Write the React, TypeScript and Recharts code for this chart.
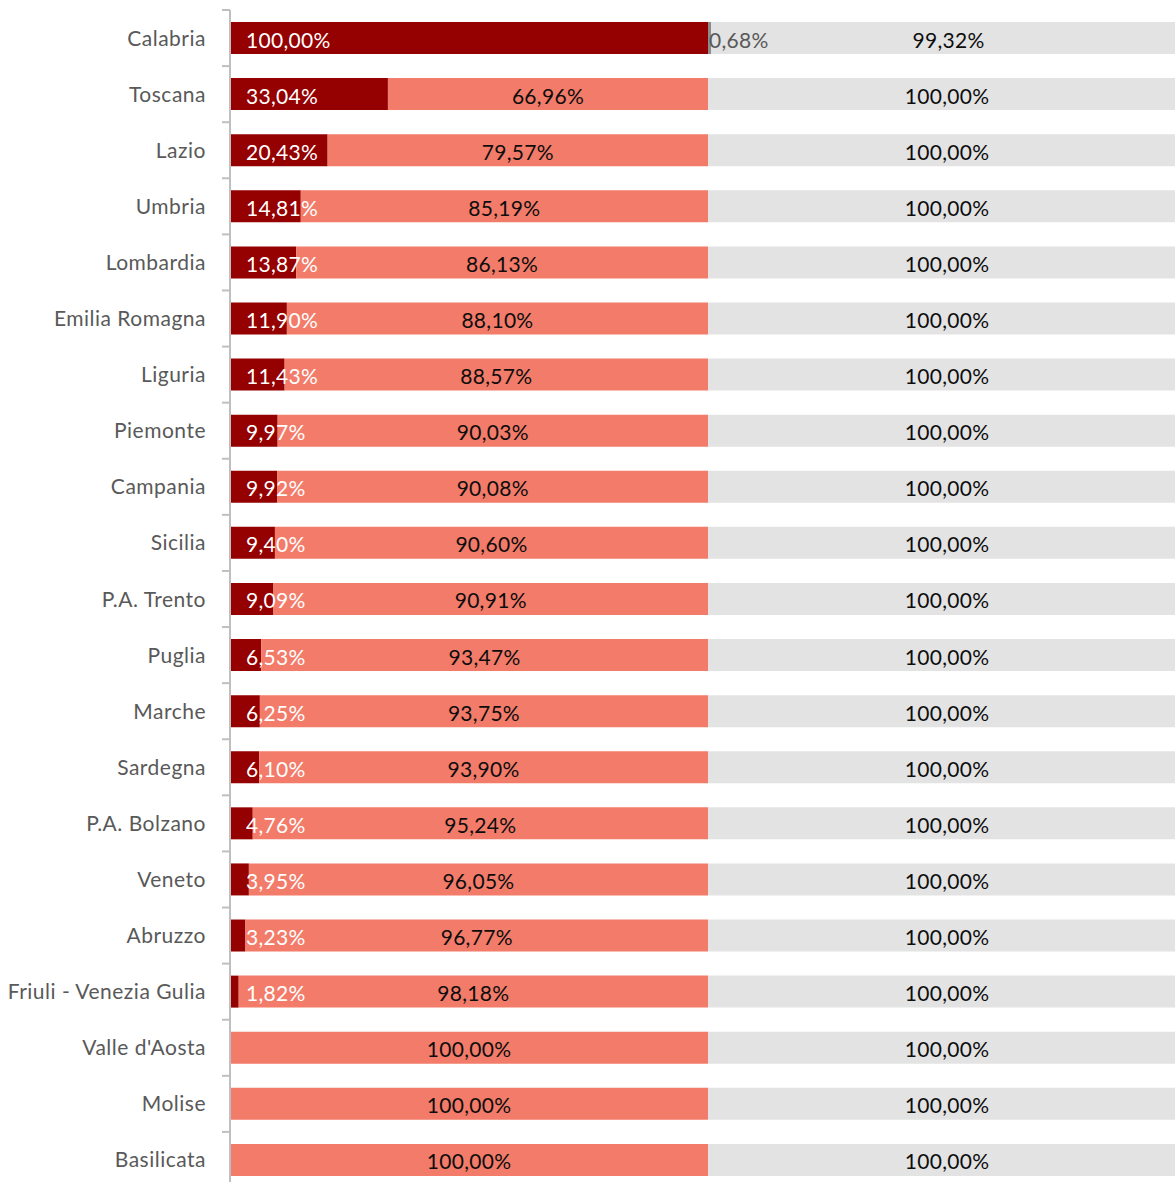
import React from 'react';
import { BarChart, Bar, XAxis, YAxis, LabelList } from 'recharts';

const regions = [
  'Calabria', 'Toscana', 'Lazio', 'Umbria', 'Lombardia', 'Emilia Romagna', 'Liguria',
  'Piemonte', 'Campania', 'Sicilia', 'P.A. Trento', 'Puglia', 'Marche', 'Sardegna',
  'P.A. Bolzano', 'Veneto', 'Abruzzo', 'Friuli - Venezia Gulia', "Valle d'Aosta", 'Molise', 'Basilicata',
];
const darkShare = [100, 33.04, 20.43, 14.81, 13.87, 11.9, 11.43, 9.97, 9.92, 9.4, 9.09, 6.53, 6.25, 6.1, 4.76, 3.95, 3.23, 1.82, 0, 0, 0];
const salmonShare = [0, 66.96, 79.57, 85.19, 86.13, 88.1, 88.57, 90.03, 90.08, 90.6, 90.91, 93.47, 93.75, 93.9, 95.24, 96.05, 96.77, 98.18, 100, 100, 100];
const greyDarkShare = [0.68, 0, 0, 0, 0, 0, 0, 0, 0, 0, 0, 0, 0, 0, 0, 0, 0, 0, 0, 0, 0];
const greyShare = [99.32, 100, 100, 100, 100, 100, 100, 100, 100, 100, 100, 100, 100, 100, 100, 100, 100, 100, 100, 100, 100];

const data = regions.map((name, i) => ({
  name,
  a: darkShare[i],
  b: salmonShare[i],
  c: greyDarkShare[i],
  d: greyShare[i],
}));

const FONT = 'Lato, "Open Sans", sans-serif';
const FS = 21;
const fmt = (v: number) => v.toFixed(2).replace('.', ',') + '%';

const CHART_W = 1186;
const CHART_H = 1188;
const M_TOP = 10;
const PLOT_H = CHART_H - M_TOP;
const BAND_FALLBACK = PLOT_H / regions.length;

const CatTick = (props: any) => {
  const { x, y, payload, index } = props;
  const half = payload && payload.offset ? payload.offset : BAND_FALLBACK / 2;
  return (
    <g>
      <line x1={x - 8} x2={x} y1={y - half} y2={y - half} stroke="#BFBFBF" strokeWidth={2} />
      {index === regions.length - 1 && (
        <line x1={x - 8} x2={x} y1={y + half} y2={y + half} stroke="#BFBFBF" strokeWidth={2} />
      )}
      <text
        x={x - 24}
        y={y - 1}
        textAnchor="end"
        dominantBaseline="central"
        fill="#595959"
        fontSize={FS}
        fontFamily={FONT}
        letterSpacing={0.5}
      >
        {payload.value}
      </text>
    </g>
  );
};

const DarkLabel = (props: any) => {
  const { x, y, height, value } = props;
  if (!value) return null;
  return (
    <text x={x + 16} y={y + height / 2 + 1} fill="#FFFFFF" fontSize={FS} fontFamily={FONT} dominantBaseline="central" letterSpacing={0.3}>
      {fmt(value)}
    </text>
  );
};

const CenterLabel = (props: any) => {
  const { x, y, width, height, value } = props;
  if (!value) return null;
  return (
    <text
      x={x + width / 2}
      y={y + height / 2 + 1}
      fill="#0D0D0D"
      fontSize={FS}
      fontFamily={FONT}
      textAnchor="middle"
      dominantBaseline="central"
      letterSpacing={0.3}
    >
      {fmt(value)}
    </text>
  );
};

const SmallLabel = (props: any) => {
  const { x, y, height, value } = props;
  if (!value) return null;
  return (
    <text x={x + 1} y={y + height / 2 + 1} fill="#595959" fontSize={FS} fontFamily={FONT} dominantBaseline="central" letterSpacing={0.3}>
      {fmt(value)}
    </text>
  );
};

export default function App() {
  return (
    <div style={{ position: 'absolute', left: 0, top: 0, width: 1175, height: 1182, overflow: 'hidden', background: '#fff' }}>
      <BarChart
        width={CHART_W}
        height={CHART_H}
        data={data}
        layout="vertical"
        margin={{ top: M_TOP, right: 0, bottom: 0, left: 8 }}
        barSize={32}
      >
        <XAxis type="number" domain={[0, 200]} hide allowDataOverflow />
        <YAxis
          type="category"
          dataKey="name"
          width={222}
          axisLine={{ stroke: '#BFBFBF', strokeWidth: 2 }}
          tickLine={false}
          tickSize={0}
          tickMargin={0}
          interval={0}
          tick={<CatTick />}
        />
        <Bar dataKey="a" stackId="s" fill="#950000" isAnimationActive={false}>
          <LabelList dataKey="a" content={<DarkLabel />} />
        </Bar>
        <Bar dataKey="b" stackId="s" fill="#F37B69" isAnimationActive={false}>
          <LabelList dataKey="b" content={<CenterLabel />} />
        </Bar>
        <Bar dataKey="c" stackId="s" fill="#8C8C8C" isAnimationActive={false}>
          <LabelList dataKey="c" content={<SmallLabel />} />
        </Bar>
        <Bar dataKey="d" stackId="s" fill="#E3E3E3" isAnimationActive={false}>
          <LabelList dataKey="d" content={<CenterLabel />} />
        </Bar>
      </BarChart>
    </div>
  );
}
